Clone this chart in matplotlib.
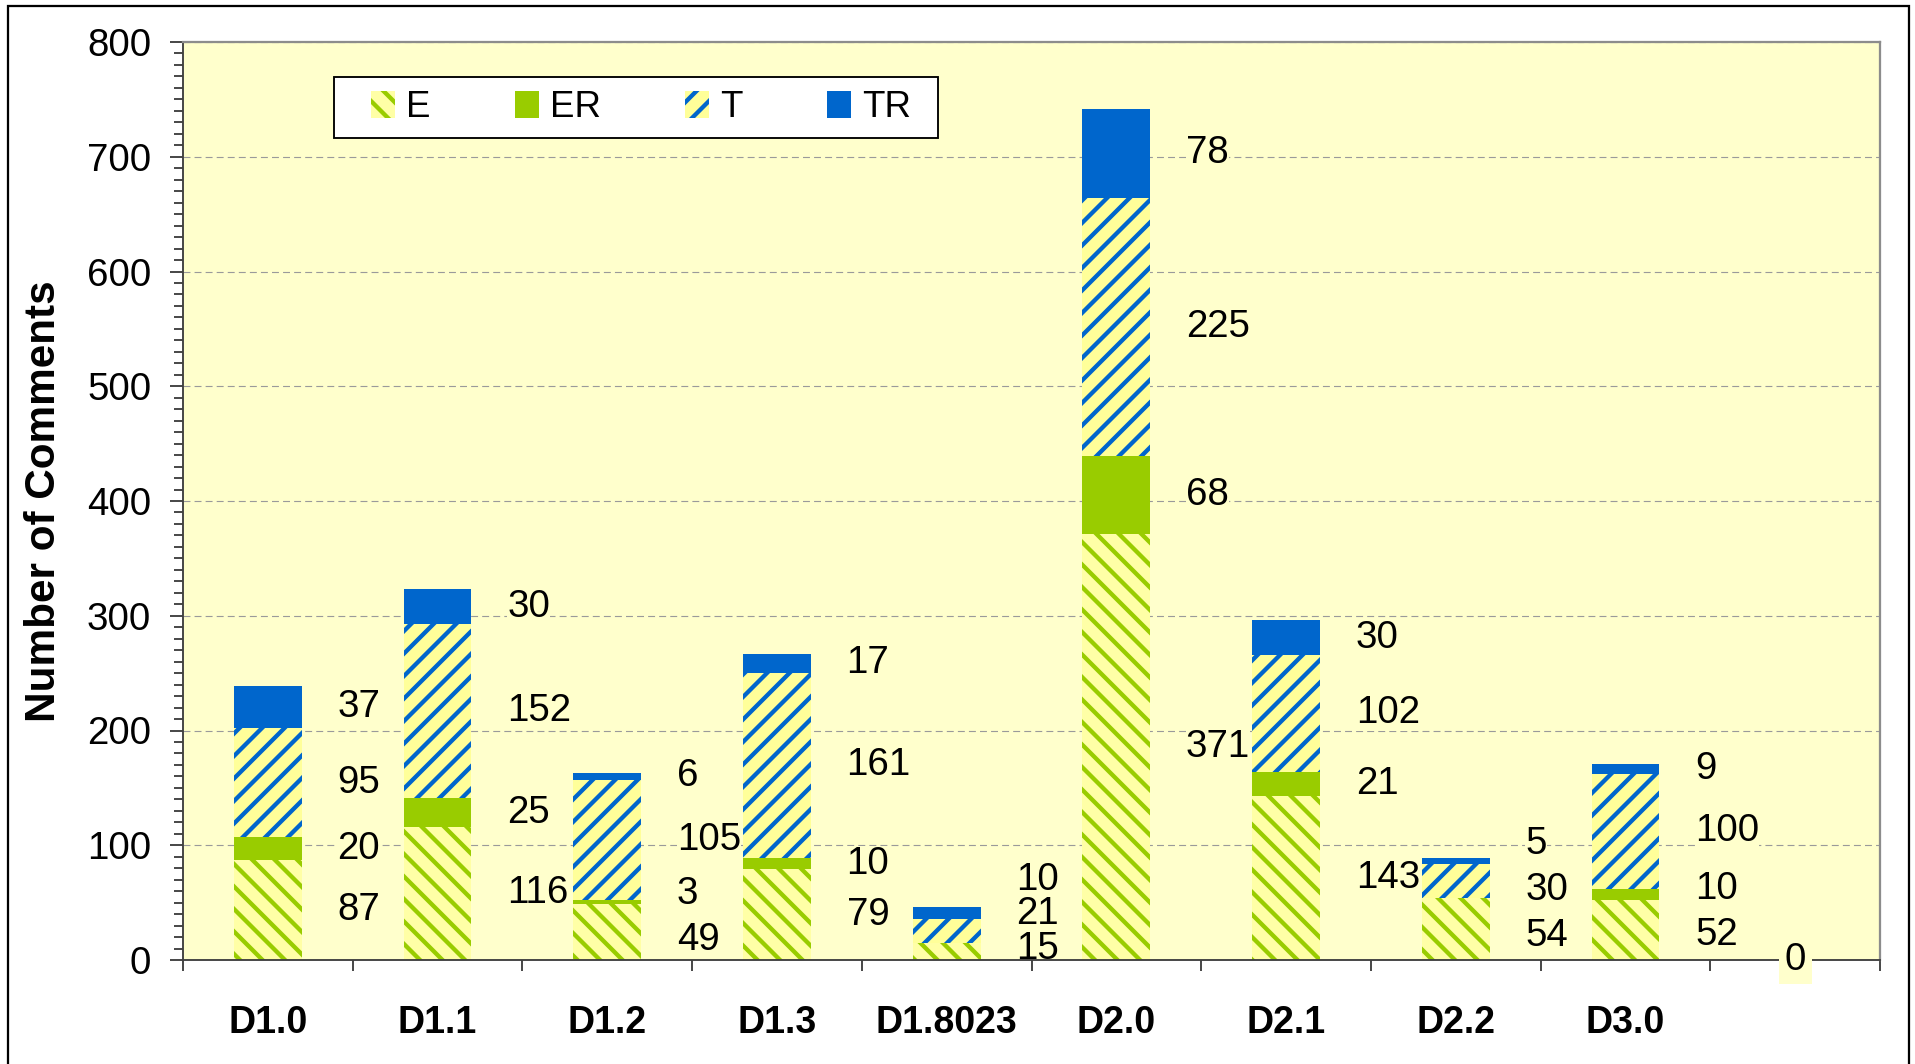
import numpy as np
import matplotlib
matplotlib.use("Agg")
import matplotlib.pyplot as plt
from matplotlib.ticker import MultipleLocator, FixedLocator
from matplotlib.patches import Rectangle

# ---------------- data ----------------
categories = ["D1.0", "D1.1", "D1.2", "D1.3", "D1.8023", "D2.0", "D2.1", "D2.2", "D3.0", ""]
E_vals  = [87, 116, 49, 79, 15, 371, 143, 54, 52, 0]
ER_vals = [20, 25, 3, 10, np.nan, 68, 21, np.nan, 10, np.nan]
T_vals  = [95, 152, 105, 161, 21, 225, 102, 30, 100, np.nan]
TR_vals = [37, 30, 6, 17, 10, 78, 30, 5, 9, np.nan]
series_names = ["E", "ER", "T", "TR"]
y_ticks = [0, 100, 200, 300, 400, 500, 600, 700, 800]

# ---------------- style ----------------
DPI = 135
plt.rcParams['font.family'] = ['Liberation Sans', 'DejaVu Sans']
plt.rcParams['hatch.linewidth'] = 2.3
plt.rcParams['lines.scale_dashes'] = False
PLOT_BG = '#FFFFCC'
GREEN = '#99CC00'
BLUE = '#0066CC'
styles = [
    dict(facecolor='#FFFFA6', edgecolor=GREEN, hatch='\\\\', linewidth=0),
    dict(facecolor=GREEN, edgecolor=GREEN, linewidth=0),
    dict(facecolor='#FFFF99', edgecolor=BLUE, hatch='//', linewidth=0),
    dict(facecolor=BLUE, edgecolor=BLUE, linewidth=0),
]

fig = plt.figure(figsize=(1915 / DPI, 1064 / DPI), dpi=DPI)
ax = fig.add_axes([183 / 1915, 104 / 1064, 1697 / 1915, 918 / 1064])
ax.set_facecolor(PLOT_BG)

x = np.arange(len(categories))
data = np.array([E_vals, ER_vals, T_vals, TR_vals], dtype=float)
bottom = np.zeros(len(categories))
bar_w = 0.4
handles = []
for k, name in enumerate(series_names):
    vals = np.nan_to_num(data[k])
    b = ax.bar(x, vals, bar_w, bottom=bottom, label=name, zorder=2, **styles[k])
    handles.append(b)
    bottom = bottom + vals

# ---------------- data labels ----------------
label_fs = 20.5
min_gap = 40.0
for i in range(len(categories)):
    vals = data[:, i]
    present = [k for k in range(4) if not np.isnan(vals[k])]
    cum = np.concatenate([[0], np.cumsum(np.nan_to_num(vals))])
    centers = [(cum[k] + cum[k + 1]) / 2 for k in present]
    total = cum[-1]
    if total == 0:
        for k in present:
            ax.text(x[i], 0, f"{int(vals[k])}", ha='center', va='center',
                    fontsize=label_fs, zorder=5, clip_on=False,
                    bbox=dict(boxstyle='square,pad=0.15', fc=PLOT_BG, ec='none'))
        continue
    small = total <= 60
    gap = 30.0 if small else min_gap
    p = list(centers)
    for _ in range(300):
        for j in range(len(p) - 1):
            if p[j + 1] - p[j] < gap:
                d = (gap - (p[j + 1] - p[j])) / 2
                p[j] -= d
                p[j + 1] += d
        p[0] = max(p[0], 10)
    for k, yy in zip(present, p):
        box = None if small else dict(boxstyle='square,pad=0.0', fc=PLOT_BG, ec='none')
        ax.text(x[i] + 0.41, yy, f"{int(vals[k])}", ha='left', va='center',
                fontsize=label_fs, zorder=5, clip_on=False, bbox=box)

# ---------------- axes ----------------
ax.set_xlim(-0.5, len(categories) - 0.5)
ax.set_ylim(0, 800)
ax.set_yticks(y_ticks)
ax.yaxis.set_minor_locator(MultipleLocator(10))
ax.set_xticks(x)
ax.set_xticklabels(categories, fontweight='bold', fontsize=20)
ax.xaxis.set_minor_locator(FixedLocator(np.arange(-0.5, len(categories), 1.0)))
ax.tick_params(axis='x', which='major', length=0, pad=24)
ax.tick_params(axis='x', which='minor', length=6, width=1, color='#404040', direction='out')
ax.tick_params(axis='y', which='major', length=7, width=1, color='#404040', labelsize=20.5, pad=10)
ax.tick_params(axis='y', which='minor', length=4.8, width=1, color='#404040')
ax.yaxis.grid(True, which='major', color='#9A9A9A', linestyle=(0, (3.7, 2.2)), linewidth=0.6)
ax.set_axisbelow(True)
for s in ['left', 'bottom']:
    ax.spines[s].set_color('#404040')
    ax.spines[s].set_linewidth(1.0)
for s in ['top', 'right']:
    ax.spines[s].set_color('#8C8C8C')
    ax.spines[s].set_linewidth(1.2)

fig.text(44 / 1915, (104 + 459) / 1064, "Number of Comments", rotation=90,
         ha='center', va='center', fontsize=22.5, fontweight='bold')

# legend frame (white box) and legend entries
ax_w, ax_h = 1697.0, 918.0
lx0, lx1, ly0, ly1 = 334 - 183, 938 - 183, 960 - 138, 960 - 77
frame = Rectangle((lx0 / ax_w, ly0 / ax_h), (lx1 - lx0) / ax_w, (ly1 - ly0) / ax_h,
                  transform=ax.transAxes, facecolor='white', edgecolor='black',
                  linewidth=1.0, zorder=6, clip_on=False)
ax.add_patch(frame)
leg = ax.legend(handles=handles, labels=series_names, ncol=4, loc='center left',
                bbox_to_anchor=((lx0 + 30) / ax_w, ly0 / ax_h, (lx1 - lx0 - 50) / ax_w, (ly1 - ly0) / ax_h),
                mode='expand', borderaxespad=0, frameon=False, fontsize=19.5,
                handlelength=0.66, handleheight=0.75, handletextpad=0.3,
                borderpad=0.2)
leg.set_zorder(7)

# outer chart border
fig.patches.append(Rectangle((8 / 1915, -0.02), 1901 / 1915, 1.02 - 6 / 1064,
                             transform=fig.transFigure, fill=False,
                             edgecolor='black', linewidth=1.2))

fig.savefig("out.png", dpi=DPI, facecolor='white')
